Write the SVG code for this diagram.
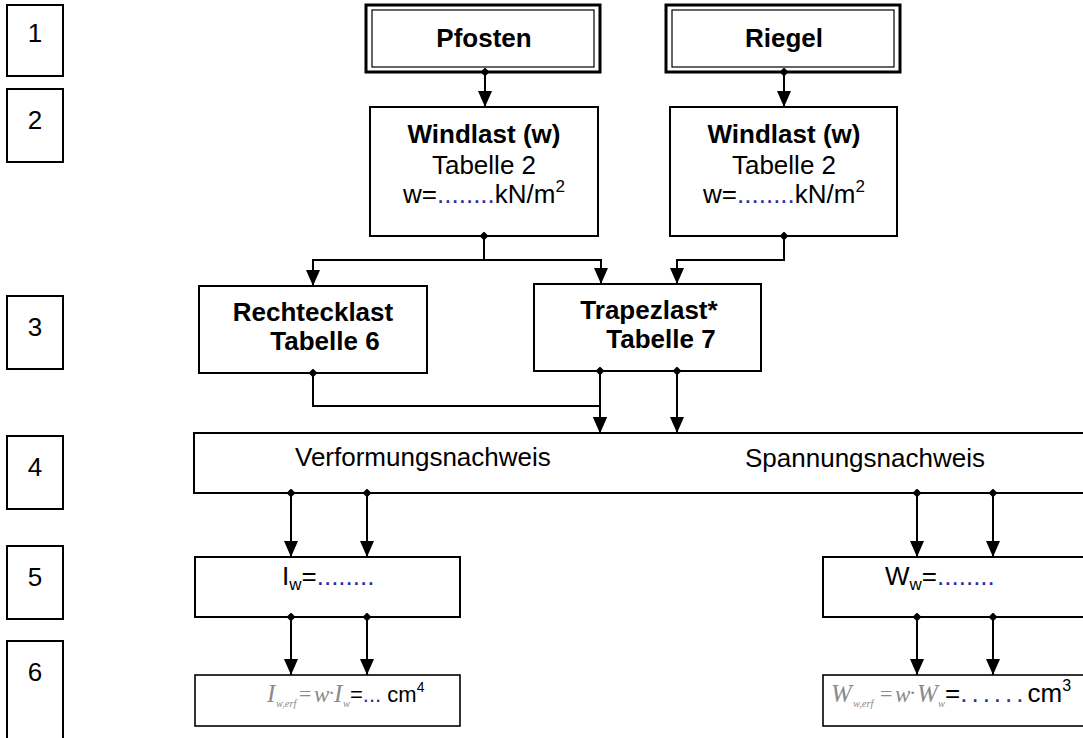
<svg xmlns="http://www.w3.org/2000/svg" width="1083" height="738" viewBox="0 0 1083 738">
<style>
.box{fill:#fff;stroke:#000;stroke-width:2}
.thin{fill:#fff;stroke:#000;stroke-width:1.6}
.outer{fill:#fff;stroke:#000;stroke-width:3}
.inner{fill:none;stroke:#000;stroke-width:1.2}
.t{font-family:"Liberation Sans",Arial,sans-serif;font-size:26px;fill:#000}
.b{font-weight:bold}
.m{text-anchor:middle}
.dots{fill:#2b2b9e}
.eq{font-family:"Liberation Serif","Times New Roman",serif;font-style:italic;fill:#8a8a8a}
.up{font-style:normal}
.c{fill:none;stroke:#000;stroke-width:2}
</style>
<defs>
<marker id="arr" markerUnits="userSpaceOnUse" markerWidth="18" markerHeight="16" refX="16" refY="7" orient="auto" viewBox="0 0 18 16">
<path d="M0,0 L16,7 L0,14 z" fill="#000"/>
</marker>
<marker id="dia" markerUnits="userSpaceOnUse" markerWidth="9" markerHeight="9" refX="4.5" refY="4.5" orient="auto" viewBox="0 0 9 9">
<path d="M0,4.5 L4.5,0 L9,4.5 L4.5,9 z" fill="#000"/>
</marker>
</defs>

<g id="num1"><rect class="box" x="7" y="5" width="56" height="71"/><text class="t m" x="35" y="42">1</text></g>
<g id="num2"><rect class="box" x="7" y="89" width="56" height="73"/><text class="t m" x="35" y="129">2</text></g>
<g id="num3"><rect class="box" x="7" y="296" width="56" height="73"/><text class="t m" x="35" y="336">3</text></g>
<g id="num4"><rect class="box" x="7" y="436" width="56" height="73"/><text class="t m" x="35" y="476">4</text></g>
<g id="num5"><rect class="box" x="7" y="546" width="56" height="73"/><text class="t m" x="35" y="586">5</text></g>
<g id="num6"><rect class="box" x="7" y="641" width="56" height="110"/><text class="t m" x="35" y="681">6</text></g>

<g id="pfosten">
<rect class="outer" x="366" y="5" width="234" height="67"/>
<rect class="inner" x="372" y="10" width="222" height="57"/>
<text class="t b m" x="484" y="47">Pfosten</text>
</g>
<g id="riegel">
<rect class="outer" x="666" y="5" width="234" height="67"/>
<rect class="inner" x="672" y="10" width="222" height="57"/>
<text class="t b m" x="784" y="47">Riegel</text>
</g>

<g id="windlast1">
<rect class="box" x="370" y="107" width="228" height="129"/>
<text class="t b m" x="484" y="143">Windlast (w)</text>
<text class="t m" x="484" y="174">Tabelle 2</text>
<text class="t m" x="484" y="203">w=<tspan class="dots">........</tspan>kN/m<tspan font-size="17" dy="-11">2</tspan></text>
</g>
<g id="windlast2">
<rect class="box" x="670" y="107" width="227" height="129"/>
<text class="t b m" x="784" y="143">Windlast (w)</text>
<text class="t m" x="784" y="174">Tabelle 2</text>
<text class="t m" x="784" y="203">w=<tspan class="dots">........</tspan>kN/m<tspan font-size="17" dy="-11">2</tspan></text>
</g>

<g id="rechtecklast">
<rect class="box" x="199" y="286" width="228" height="87"/>
<text class="t b m" x="313" y="321">Rechtecklast</text>
<text class="t b m" x="325" y="350">Tabelle 6</text>
</g>
<g id="trapezlast">
<rect class="box" x="534" y="284" width="227" height="87"/>
<text class="t b m" x="649" y="319">Trapezlast*</text>
<text class="t b m" x="661" y="348">Tabelle 7</text>
</g>

<g id="nachweis">
<rect class="box" x="194" y="433" width="900" height="60"/>
<text class="t" x="295" y="466">Verformungsnachweis</text>
<text class="t" x="745" y="467">Spannungsnachweis</text>
</g>

<g id="iw">
<rect class="box" x="195" y="557" width="265" height="60"/>
<text class="t" x="282" y="585">I<tspan font-size="17" dy="5">w</tspan><tspan dy="-5">=</tspan><tspan class="dots">........</tspan></text>
</g>
<g id="ww">
<rect class="box" x="823" y="557" width="270" height="60"/>
<text class="t" x="885" y="585">W<tspan font-size="17" dy="5">w</tspan><tspan dy="-5">=</tspan><tspan class="dots">........</tspan></text>
</g>

<g id="iwerf">
<rect class="thin" x="195" y="675" width="265" height="51"/>
<text class="eq" font-size="25" x="267" y="702">I</text>
<text class="eq" font-size="10.5" x="276" y="707">w,erf</text>
<text class="eq up" font-size="22" x="299" y="701">=</text>
<text class="eq" font-size="23" x="314" y="702">w</text>
<text class="eq up" font-size="22" x="328" y="700">·</text>
<text class="eq" font-size="25" x="334" y="702">I</text>
<text class="eq" font-size="10.5" x="343" y="707">w</text>
<text class="t" x="350" y="702" style="font-size:22px">=<tspan class="dots">...</tspan> cm<tspan font-size="14" dy="-10">4</tspan></text>
</g>
<g id="wwerf">
<rect class="thin" x="823" y="675" width="270" height="51"/>
<text class="eq" font-size="25" x="831" y="702">W</text>
<text class="eq" font-size="10.5" x="853" y="707">w,erf</text>
<text class="eq up" font-size="22" x="880" y="701">=</text>
<text class="eq" font-size="23" x="895" y="702">w</text>
<text class="eq up" font-size="22" x="909" y="700">·</text>
<text class="eq" font-size="25" x="917" y="702">W</text>
<text class="eq" font-size="10.5" x="938" y="707">w</text>
<text class="t" x="945" y="702">=<tspan class="dots" style="letter-spacing:4px">......</tspan>cm<tspan font-size="16" dy="-11">3</tspan></text>
</g>

<g id="connectors">
<path class="c" d="M485,72 V107" marker-start="url(#dia)" marker-end="url(#arr)"/>
<path class="c" d="M784,72 V107" marker-start="url(#dia)" marker-end="url(#arr)"/>
<path class="c" d="M484,236 V260 H313 V286" marker-start="url(#dia)" marker-end="url(#arr)"/>
<path class="c" d="M484,236 V260 H601 V284" marker-end="url(#arr)"/>
<path class="c" d="M784,236 V260 H677 V284" marker-start="url(#dia)" marker-end="url(#arr)"/>
<path class="c" d="M313,373 V406 H600 V433" marker-start="url(#dia)" marker-end="url(#arr)"/>
<path class="c" d="M600,371 V433" marker-start="url(#dia)" marker-end="url(#arr)"/>
<path class="c" d="M677,371 V433" marker-start="url(#dia)" marker-end="url(#arr)"/>
<path class="c" d="M291,493 V557" marker-start="url(#dia)" marker-end="url(#arr)"/>
<path class="c" d="M367,493 V557" marker-start="url(#dia)" marker-end="url(#arr)"/>
<path class="c" d="M917,493 V557" marker-start="url(#dia)" marker-end="url(#arr)"/>
<path class="c" d="M993,493 V557" marker-start="url(#dia)" marker-end="url(#arr)"/>
<path class="c" d="M291,617 V675" marker-start="url(#dia)" marker-end="url(#arr)"/>
<path class="c" d="M367,617 V675" marker-start="url(#dia)" marker-end="url(#arr)"/>
<path class="c" d="M917,617 V675" marker-start="url(#dia)" marker-end="url(#arr)"/>
<path class="c" d="M993,617 V675" marker-start="url(#dia)" marker-end="url(#arr)"/>
</g>
</svg>
